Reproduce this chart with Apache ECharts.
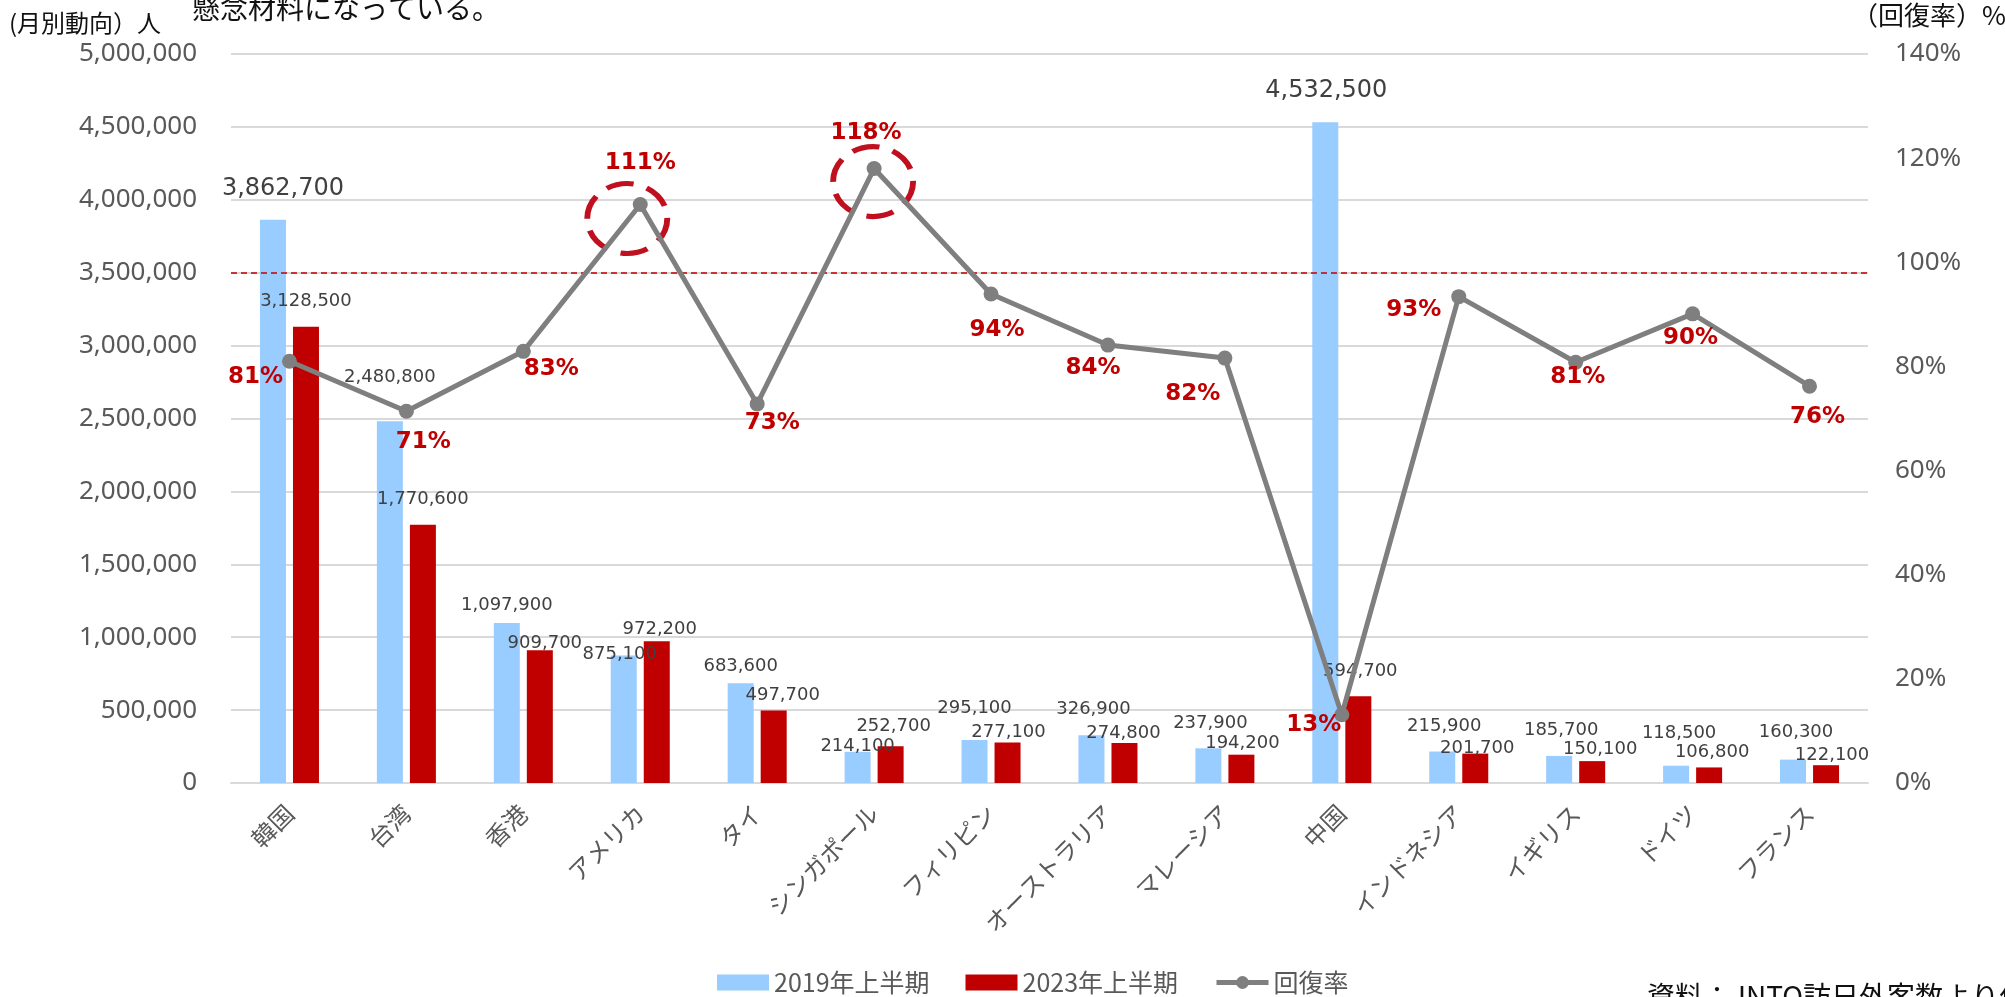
<!DOCTYPE html>
<html>
<head>
<meta charset="utf-8">
<script src="https://cdn.jsdelivr.net/npm/echarts@6/dist/echarts.min.js"></script>
<style>
html,body{margin:0;padding:0;background:#fff;}
#chart{width:2005px;height:997px;}
</style>
</head>
<body>
<div id="chart"></div>
<script>
// ---- data ----
const categories = ['韓国','台湾','香港','アメリカ','タイ','シンガポール','フィリピン','オーストラリア','マレーシア','中国','インドネシア','イギリス','ドイツ','フランス'];
const visitors2019 = [3862700,2480800,1097900,875100,683600,214100,295100,326900,237900,4532500,215900,185700,118500,160300];
const visitors2023 = [3128500,1770600,909700,972200,497700,252700,277100,274800,194200,594700,201700,150100,106800,122100];
const recoveryRate = [81.0,71.4,82.9,111.1,72.8,118.0,93.9,84.1,81.6,13.1,93.4,80.8,90.1,76.2];
const seriesNames = ['2019年上半期','2023年上半期','回復率'];
const leftAxis = {min:0, max:5000000, interval:500000};
const rightAxis = {min:0, max:140, interval:20};
const referenceLevel = 3500000;
const highlightIdx = [3,5];
const bigLabelIdx = [0,9];

// ---- label placement (styling only) ----
const blueOff = [[10,-18],[0,-34],[0,-8],[-4,9],[0,-7],[0,5],[0,-22],[2,-16],[2,-15],[1,-18],[2,-15],[2,-16],[3,-22],[3,-17]];
const redOff  = [[0,-16],[0,-16],[5,3],[3,-2],[9,-5],[3,-10],[1,0],[-1,0],[1,-1],[2,-15],[2,5],[8,-2],[3,-5],[6,0]];
const pctOff  = [[-34,16],[17,31],[28,18],[0,-41],[15,19],[-8,-36],[6,36],[-15,23],[-32,36],[-28,10],[-45,13],[2,15],[-2,24],[8,31]];
const circleOff = [[-13,14],[-1,13]];

const fmt = v => v.toLocaleString('en-US');
const AX = '#595959';
const LATIN = '"Noto Sans","Noto Sans CJK JP",sans-serif';
const JP = '"Noto Sans CJK JP","Noto Sans",sans-serif';
const VER = '"DejaVu Sans",sans-serif';

const blueData = visitors2019.map((v,i)=>({
  value:v,
  label:{
    show:true, position:'top', distance:0, offset:blueOff[i],
    formatter: fmt(v),
    fontSize: bigLabelIdx.includes(i)?24:18,
    lineHeight: bigLabelIdx.includes(i)?26:20,
    color:'#404040', fontFamily:VER
  }
}));
const redData = visitors2023.map((v,i)=>({
  value:v,
  label:{show:true, position:'top', distance:0, offset:redOff[i], formatter: fmt(v),
    fontSize:18, lineHeight:20, color:'#404040', fontFamily:VER}
}));
const lineData = recoveryRate.map((v,i)=>({
  value:v,
  label:{show:true, position:'inside', offset:pctOff[i], formatter: Math.round(v)+'%',
    fontSize:23, fontWeight:'bold', color:'#c00000', fontFamily:VER}
}));

const chart = echarts.init(document.getElementById('chart'), null, {renderer:'canvas'});
chart.setOption({
  animation:false,
  backgroundColor:'#fff',
  grid:{left:231, right:137, top:54, bottom:214, containLabel:false},
  legend:{
    left:712, top:965, itemWidth:52, itemHeight:16, itemGap:36,
    textStyle:{fontSize:25, color:AX, fontFamily:JP},
    lineStyle:{width:5, color:'#7f7f7f'},
    data:[
      {name:seriesNames[0], icon:'rect'},
      {name:seriesNames[1], icon:'rect'},
      {name:seriesNames[2]}
    ]
  },
  xAxis:{
    type:'category', data:categories,
    axisLine:{lineStyle:{color:'#d9d9d9', width:2}},
    axisTick:{show:false},
    axisLabel:{rotate:45, color:AX, fontSize:24, fontFamily:JP, margin:26, interval:0}
  },
  yAxis:[
    {type:'value', min:leftAxis.min, max:leftAxis.max, interval:leftAxis.interval,
     axisLine:{show:false}, axisTick:{show:false},
     splitLine:{lineStyle:{color:'#d9d9d9', width:2}},
     axisLabel:{formatter:v=>fmt(v), color:AX, fontSize:26, fontFamily:LATIN, margin:34}},
    {type:'value', min:rightAxis.min, max:rightAxis.max, interval:rightAxis.interval,
     axisLine:{show:false}, axisTick:{show:false}, splitLine:{show:false},
     axisLabel:{formatter:'{value}%', color:AX, fontSize:26, fontFamily:LATIN, margin:27}}
  ],
  graphic:[
    {type:'text', left:9, top:11, style:{text:'(月別動向）人', fill:'#111', font:'24px "Noto Sans CJK JP"'}},
    {type:'text', left:192, top:-6, style:{text:'懸念材料になっている。', fill:'#111', font:'28px "Noto Sans CJK JP"'}},
    {type:'text', left:1852, top:2, style:{text:'（回復率）%', fill:'#111', font:'26px "Noto Sans CJK JP"'}},
    {type:'text', left:1647, top:982, style:{text:'資料：JNTO訪日外客数より作成', fill:'#111', font:'28px "Noto Sans CJK JP"'}}
  ],
  series:[
    {name:seriesNames[0], type:'bar', yAxisIndex:0, data:blueData, barWidth:26, barGap:'27%',
     itemStyle:{color:'#99ccff'},
     markLine:{silent:true, symbol:'none', label:{show:false},
       lineStyle:{color:'#c00000', type:[6,4], width:1.5},
       data:[{yAxis:referenceLevel}]}},
    {name:seriesNames[1], type:'bar', yAxisIndex:0, data:redData, barWidth:26,
     itemStyle:{color:'#c00000'}},
    {name:seriesNames[2], type:'line', yAxisIndex:1, data:lineData,
     symbol:'circle', symbolSize:15, z:5,
     lineStyle:{color:'#7f7f7f', width:5},
     itemStyle:{color:'#7f7f7f'},
     markPoint:{
       silent:true,
       symbol:'circle',
       label:{show:false},
       itemStyle:{color:'rgba(0,0,0,0)', borderColor:'#c0101f', borderWidth:5.5, borderType:[26,13]},
       data: highlightIdx.map((idx,k)=>({
         coord:[categories[idx], recoveryRate[idx]],
         symbolSize:[80,70], symbolOffset:circleOff[k]
       }))
     }}
  ]
});
</script>
</body>
</html>
